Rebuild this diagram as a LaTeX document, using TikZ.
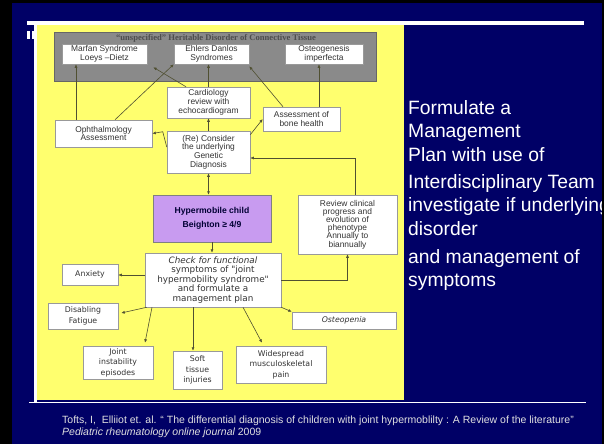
\documentclass[tikz,border=0pt]{standalone}
\usepackage{fontspec}
\setmainfont{Liberation Sans}
\newfontfamily\serifface{Liberation Serif}
\newfontfamily\roundface{DejaVu Sans}
\usetikzlibrary{arrows.meta, positioning}
\definecolor{slidebg}{RGB}{0,0,102}
\definecolor{padyellow}{RGB}{255,255,110}
\definecolor{hdgray}{RGB}{138,138,138}
\definecolor{lilac}{RGB}{200,155,240}
\definecolor{linkcol}{RGB}{80,80,50}
\tikzset{
  box/.style={draw=black!40, fill=white, line width=0.5pt, align=center, inner sep=0pt,
    font=\fontsize{8.4}{8.7}\selectfont, text=black!80},
  rbox/.style={box, font=\roundface\fontsize{7.8}{10.5}\selectfont},
  link/.style={draw=linkcol, line width=0.6pt, -{Latex[length=3.5pt,width=3pt]}},
  dlink/.style={link, {Latex[length=3.5pt,width=3pt]}-{Latex[length=3.5pt,width=3pt]}},
  sidetext/.style={text=white, font=\fontsize{19.3}{23}\selectfont, inner sep=0pt, anchor=base west},
  foot/.style={text=white!88!black, font=\fontsize{10.5}{12}\selectfont, inner sep=0pt, anchor=base west},
}
\begin{document}
\begin{tikzpicture}[x=1pt,y=-1pt]
\useasboundingbox (0,0) rectangle (604,444);
\fill[slidebg] (0,0) rectangle (604,444);
\fill[black] (0,0) rectangle (12,444);
\fill[black] (0,0) rectangle (604,3);
% slide rules and title remains
\fill[white] (27,21) rectangle (584,25);
\fill[white] (29,401.5) rectangle (586,402.8);
\fill[white] (27,31) rectangle (30,39);
\fill[white] (32,31) rectangle (34,39);
% the pasted chart
\fill[white] (34,21) rectangle (37,402);
\fill[padyellow] (37,25) rectangle (404,400);
\filldraw[fill=hdgray, draw=black!60] (54,32) rectangle (376,81);
\node[font=\serifface\bfseries\fontsize{8.6}{8.6}\selectfont, text=black!70, inner sep=0pt] (hdtitle) at (216,38.5)
  {“unspecified” Heritable Disorder of Connective Tissue};

\node[box, minimum width=85pt, minimum height=20pt] (marfan) at (104.5,54) {Marfan Syndrome\\Loeys –Dietz};
\node[box, minimum width=75pt, minimum height=20pt] (ehlers) at (211.5,54) {Ehlers Danlos\\Syndromes};
\node[box, minimum width=78pt, minimum height=20pt] (osteo) at (324,54) {Osteogenesis\\imperfecta};
\node[box, minimum width=83pt, minimum height=31pt] (cardio) at (208.5,102.5) {Cardiology\\review with\\echocardiogram};
\node[box, minimum width=77pt, minimum height=24pt] (bone) at (301.5,119) {Assessment of\\bone health};
\node[box, minimum width=97pt, minimum height=27pt] (ophth) at (103.5,133.5) {Ophthalmology\\Assessment};
\node[box, minimum width=83pt, minimum height=42pt] (consider) at (208.5,152) {(Re) Consider\\the underlying\\Genetic\\Diagnosis};
\node[box, fill=lilac, draw=black!50, minimum width=118pt, minimum height=47pt,
  font=\bfseries\fontsize{8.6}{14}\selectfont, text=black!80!blue] (hyper) at (212,218.5) {Hypermobile child\\Beighton ≥ 4/9};
\node[box, minimum width=99pt, minimum height=59pt, font=\fontsize{8.4}{8.2}\selectfont] (review) at (347.5,224.5)
  {Review clinical\\progress and\\evolution of\\phenotype\\Annually to\\biannually};
\node[rbox, minimum width=136pt, minimum height=54pt, font=\roundface\fontsize{8.8}{9.5}\selectfont] (check) at (213,280)
  {\itshape Check for functional\\symptoms of "joint\\hypermobility syndrome"\\and formulate a\\management plan};
\node[rbox, minimum width=56pt, minimum height=21pt] (anxiety) at (90,274.5) {Anxiety};
\node[rbox, minimum width=70pt, minimum height=26pt] (fatigue) at (83,316) {Disabling\\Fatigue};
\node[rbox, minimum width=104pt, minimum height=17pt] (osteopenia) at (344,320.5) {\itshape Osteopenia};
\node[rbox, minimum width=70pt, minimum height=33pt] (joint) at (118,362.5) {Joint\\instability\\episodes};
\node[rbox, minimum width=49pt, minimum height=38pt] (soft) at (197.5,370) {Soft\\tissue\\injuries};
\node[rbox, minimum width=90pt, minimum height=37pt] (wide) at (281,364.5) {Widespread\\musculoskeletal\\pain};

\coordinate (oph1) at ([xshift=-27.5pt]ophth.north);
\coordinate (oph2) at ([xshift=11.5pt]ophth.north);
\coordinate (car1) at ([xshift=-22.5pt]cardio.north);
\coordinate (bon1) at ([xshift=-18.5pt]bone.north);
\coordinate (bon2) at ([xshift=17.5pt]bone.north);
\coordinate (rev1) at ([xshift=7.5pt]review.north);
\coordinate (chk0) at ([yshift=5pt]check.west);
\coordinate (chk1) at ([xshift=-61pt]check.south);
\coordinate (chk2) at ([xshift=-20pt]check.south);
\coordinate (chk3) at ([xshift=30pt]check.south);

\draw[link] (oph1) -- (oph1 |- marfan.south);
\draw[link] (oph2) -- (ehlers.south west);
\draw[link] (car1) -- ([xshift=6pt,yshift=-3pt]marfan.south east);
\draw[link] (cardio.north) -- (cardio.north |- ehlers.south);
\draw[link] (bon1) -- ([yshift=-2pt]ehlers.south east);
\draw[link] (bon2) -- (bon2 |- osteo.south);
\draw[link] (consider.north) -- (cardio.south);
\draw[link] ([yshift=-4pt]consider.north east) -- (bone.west);
\draw[link] ([yshift=5pt]consider.west) -- ([xshift=-4pt,yshift=-1pt]consider.north west) -- (ophth.east);
\draw[dlink] (consider.south) -- (consider.south |- hyper.north);
\draw[link] (rev1) |- ([yshift=-6pt]consider.east);
\draw[link] (hyper.south) -- (hyper.south |- check.north);
\draw[link] (check.east) -| (review.south);
\draw[link] (chk0) -- (chk0 -| anxiety.east);
\draw[link] ([xshift=2pt]check.south west) -- ([xshift=3pt,yshift=3pt]fatigue.east);
\draw[link] (chk1) -- ([xshift=27pt,yshift=3pt]joint.north);
\draw[link] (chk2) -- (chk2 |- soft.north);
\draw[link] (chk3) -- ([xshift=-19pt,yshift=3pt]wide.north);
\draw[link] (check.south east) -- (osteopenia.north west);

% slide text
\foreach \txt/\yy [count=\k] in {Formulate a/114, Management/137.5, Plan with use of/161,
    Interdisciplinary Team/188, investigate if underlying/211.5, disorder/235,
    and management of/263, symptoms/286.5}
  \node[sidetext, name=side\k] at (408,\yy) {\txt};
\node[foot] (ref1) at (62,423) {Tofts, I,\ \ Elliiot et. al. “ The differential diagnosis of children with joint hypermoblilty : A Review of the literature”};
\node[foot] (ref2) at (62,435) {\itshape Pediatric rheumatology online journal\upshape{} 2009};
\fill[black] (602,0) rectangle (604,444);
\end{tikzpicture}
\end{document}
